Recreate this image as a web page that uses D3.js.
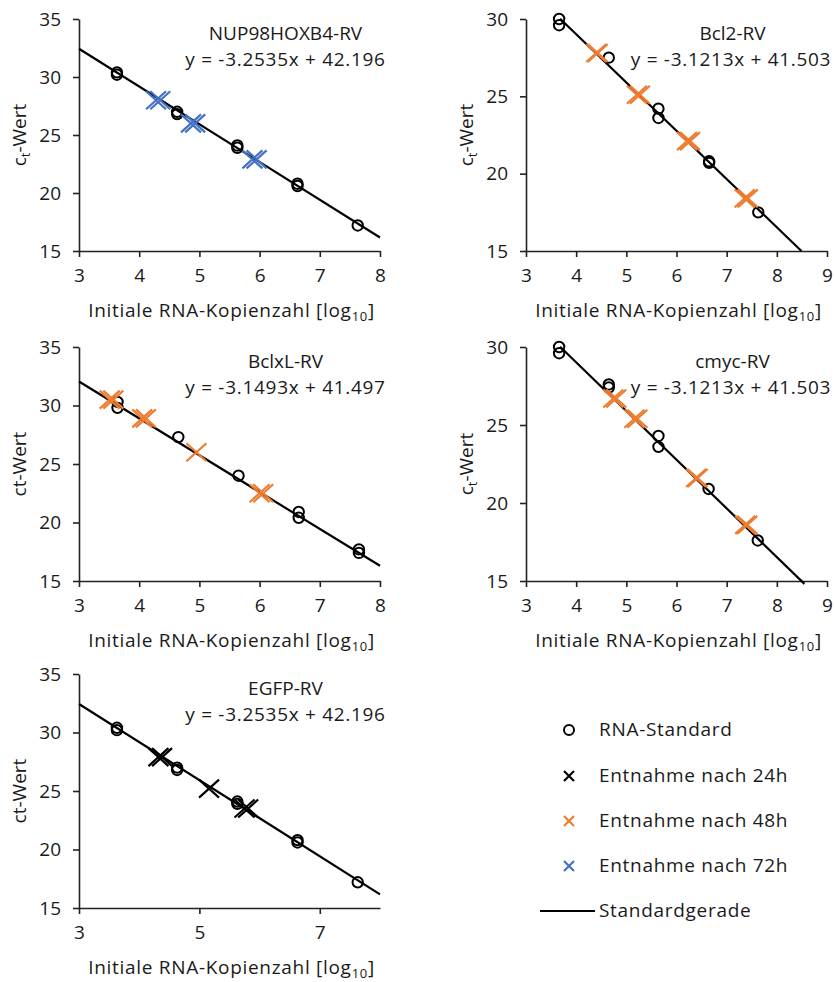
<!DOCTYPE html>
<html>
<head>
<meta charset="utf-8">
<script src="https://cdn.jsdelivr.net/npm/d3@7"></script>
<style>
  body { margin: 0; background: #fff; }
  text { font-family: "Open Sans", sans-serif; fill: #1a1a1a; }
</style>
</head>
<body>
<div id="chart"></div>
<script>
// --- data ---
var orange = "#ED7D31", blue = "#4472C4", black = "#000";

// NUP98HOXB4-RV
var nupStdX = [3.63, 3.63, 4.63, 4.63, 5.63, 5.63, 6.63, 6.63, 7.63];
var nupStdY = [30.4, 30.2, 27.0, 26.8, 24.1, 23.9, 20.8, 20.6, 17.2];
var nupSmpX = [4.28, 4.35, 4.86, 4.93, 5.88, 5.95];
var nupSmpY = [28.0, 28.0, 26.0, 26.0, 22.9, 22.9];

// Bcl2-RV
var bcl2StdX = [3.66, 3.66, 4.65, 5.64, 5.64, 6.65, 6.65, 7.63];
var bcl2StdY = [30.0, 29.6, 27.5, 24.2, 23.6, 20.8, 20.7, 17.5];
var bcl2SmpX = [4.40, 4.43, 5.21, 5.27, 6.21, 6.27, 7.36, 7.42];
var bcl2SmpY = [27.8, 27.8, 25.1, 25.1, 22.1, 22.1, 18.4, 18.4];

// BclxL-RV
var bclxStdX = [3.64, 3.64, 4.65, 5.65, 6.65, 6.65, 7.65, 7.65];
var bclxStdY = [30.3, 29.8, 27.3, 24.0, 20.9, 20.4, 17.7, 17.4];
var bclxSmpX = [3.51, 3.57, 4.05, 4.11, 4.95, 6.00, 6.06];
var bclxSmpY = [30.5, 30.5, 28.9, 28.9, 26.0, 22.5, 22.5];

// cmyc-RV
var cmycStdX = [3.66, 3.66, 4.65, 4.65, 5.64, 5.64, 6.64, 7.62];
var cmycStdY = [30.0, 29.6, 27.6, 27.4, 24.3, 23.6, 20.9, 17.6];
var cmycSmpX = [4.74, 4.80, 5.16, 5.22, 6.39, 6.42, 7.37, 7.41];
var cmycSmpY = [26.7, 26.7, 25.4, 25.4, 21.6, 21.6, 18.6, 18.6];

// EGFP-RV
var egfpStdX = [3.63, 3.63, 4.63, 4.63, 5.63, 5.63, 6.63, 6.63, 7.63];
var egfpStdY = [30.4, 30.2, 27.0, 26.8, 24.1, 23.9, 20.8, 20.6, 17.2];
var egfpSmpX = [4.32, 4.38, 5.16, 5.75, 5.81];
var egfpSmpY = [27.9, 27.9, 25.2, 23.5, 23.5];

var legendLabels = ["RNA-Standard", "Entnahme nach 24h", "Entnahme nach 48h", "Entnahme nach 72h", "Standardgerade"];
var legendColors = [black, black, orange, blue, black];

var panels = [
  { name: "NUP98HOXB4-RV", eq: "y = -3.2535x + 42.196", slope: -3.2535, icpt: 42.196,
    stdX: nupStdX, stdY: nupStdY, smpX: nupSmpX, smpY: nupSmpY, color: blue,
    left: 79, right: 380, top: 19, bottom: 251, xDom: [3, 8], xTicks: [3, 4, 5, 6, 7, 8],
    yDom: [15, 35], yTicks: [15, 20, 25, 30, 35], lineX: [3, 8], sub: true, xTitle: "Initiale RNA-Kopienzahl [log" },
  { name: "Bcl2-RV", eq: "y = -3.1213x + 41.503", slope: -3.1213, icpt: 41.503,
    stdX: bcl2StdX, stdY: bcl2StdY, smpX: bcl2SmpX, smpY: bcl2SmpY, color: orange,
    left: 526, right: 827, top: 19, bottom: 251, xDom: [3, 9], xTicks: [3, 4, 5, 6, 7, 8, 9],
    yDom: [15, 30], yTicks: [15, 20, 25, 30], lineX: [3.68, 8.49], sub: true, xTitle: "Initiale RNA-Kopienzahl  [log" },
  { name: "BclxL-RV", eq: "y = -3.1493x + 41.497", slope: -3.1493, icpt: 41.497,
    stdX: bclxStdX, stdY: bclxStdY, smpX: bclxSmpX, smpY: bclxSmpY, color: orange,
    left: 79, right: 380, top: 347, bottom: 581, xDom: [3, 8], xTicks: [3, 4, 5, 6, 7, 8],
    yDom: [15, 35], yTicks: [15, 20, 25, 30, 35], lineX: [3, 8], sub: false, xTitle: "Initiale RNA-Kopienzahl  [log" },
  { name: "cmyc-RV", eq: "y = -3.1213x + 41.503", slope: -3.1213, icpt: 41.503,
    stdX: cmycStdX, stdY: cmycStdY, smpX: cmycSmpX, smpY: cmycSmpY, color: orange,
    left: 526, right: 827, top: 347, bottom: 581, xDom: [3, 9], xTicks: [3, 4, 5, 6, 7, 8, 9],
    yDom: [15, 30], yTicks: [15, 20, 25, 30], lineX: [3.68, 8.55], sub: true, xTitle: "Initiale RNA-Kopienzahl  [log" },
  { name: "EGFP-RV", eq: "y = -3.2535x + 42.196", slope: -3.2535, icpt: 42.196,
    stdX: egfpStdX, stdY: egfpStdY, smpX: egfpSmpX, smpY: egfpSmpY, color: black,
    left: 79, right: 380, top: 674, bottom: 908, xDom: [3, 8], xTicks: [3, 5, 7],
    yDom: [15, 35], yTicks: [15, 20, 25, 30, 35], lineX: [3, 8], sub: false, xTitle: "Initiale RNA-Kopienzahl  [log" }
];

var svg = d3.select("#chart").append("svg")
  .attr("width", 835).attr("height", 982);

var crossPath = "M-10,-9L10,9M-10,9L10,-9";
var fs = "19px", ls = "0.7px";

panels.forEach(function(p) {
  var x = d3.scaleLinear().domain(p.xDom).range([p.left, p.right]);
  var y = d3.scaleLinear().domain(p.yDom).range([p.bottom, p.top]);
  var g = svg.append("g");

  var xa = g.append("g").attr("transform", "translate(0," + p.bottom + ")")
    .call(d3.axisBottom(x).tickValues(p.xTicks).tickFormat(d3.format("d"))
      .tickSize(6).tickPadding(12).tickSizeOuter(0));
  var ya = g.append("g").attr("transform", "translate(" + p.left + ",0)")
    .call(d3.axisLeft(y).tickValues(p.yTicks).tickFormat(d3.format("d"))
      .tickSize(6).tickPadding(12).tickSizeOuter(0));
  [xa, ya].forEach(function(a) {
    a.select(".domain").attr("stroke", "#222").attr("stroke-width", 1.6);
    a.selectAll(".tick line").attr("stroke", "#222").attr("stroke-width", 1.6);
    a.selectAll(".tick text").style("font-size", fs).style("font-family", "'Open Sans', sans-serif").attr("fill", "#1a1a1a");
  });

  // standard line
  g.append("line")
    .attr("x1", x(p.lineX[0])).attr("y1", y(p.slope * p.lineX[0] + p.icpt))
    .attr("x2", x(p.lineX[1])).attr("y2", y(p.slope * p.lineX[1] + p.icpt))
    .attr("stroke", "#000").attr("stroke-width", 2.2);

  // standards
  g.selectAll(".std").data(d3.zip(p.stdX, p.stdY)).enter().append("circle")
    .attr("cx", function(d) { return x(d[0]); })
    .attr("cy", function(d) { return y(d[1]); })
    .attr("r", 5.2).attr("fill", "none").attr("stroke", "#000").attr("stroke-width", 2);

  // samples
  g.selectAll(".smp").data(d3.zip(p.smpX, p.smpY)).enter().append("path")
    .attr("d", crossPath)
    .attr("transform", function(d) { return "translate(" + x(d[0]) + "," + y(d[1]) + ")"; })
    .attr("fill", "none").attr("stroke", p.color).attr("stroke-width", 2.2);

  var cx = (p.left + p.right) / 2;
  var tx = cx + 56;
  g.append("text").attr("x", tx).attr("y", p.top + 21).attr("text-anchor", "middle")
    .style("font-size", fs).text(p.name);
  g.append("text").attr("x", Math.min(tx, 731)).attr("y", p.top + 47).attr("text-anchor", "middle")
    .style("font-size", fs).style("letter-spacing", ls).text(p.eq);

  var xt = g.append("text").attr("x", cx + 2).attr("y", p.bottom + 66).attr("text-anchor", "middle")
    .style("font-size", fs).style("letter-spacing", ls).text(p.xTitle);
  xt.append("tspan").attr("dy", 4).style("font-size", "13px").text("10");
  xt.append("tspan").attr("dy", -4).text("]");

  var yt = g.append("text")
    .attr("transform", "translate(" + (p.left - 53) + "," + ((p.top + p.bottom) / 2) + ") rotate(-90)")
    .attr("text-anchor", "middle").style("font-size", fs);
  if (p.sub) {
    yt.append("tspan").text("c");
    yt.append("tspan").attr("dy", 4).style("font-size", "13px").text("t");
    yt.append("tspan").attr("dy", -4).text("-Wert");
  } else {
    yt.text("ct-Wert");
  }
});

// legend
var lg = svg.append("g");
var rowY = [730, 776, 821, 866, 911];
lg.selectAll(".lt").data(legendLabels).enter().append("text")
  .attr("x", 599).attr("y", function(d, i) { return rowY[i] + 6; })
  .style("font-size", fs).style("letter-spacing", ls).text(function(d) { return d; });
lg.append("circle").attr("cx", 569).attr("cy", rowY[0]).attr("r", 5)
  .attr("fill", "none").attr("stroke", "#000").attr("stroke-width", 2);
[1, 2, 3].forEach(function(i) {
  lg.append("path").attr("d", "M-5,-5L5,5M-5,5L5,-5")
    .attr("transform", "translate(569," + rowY[i] + ")")
    .attr("fill", "none").attr("stroke", legendColors[i]).attr("stroke-width", 2.2);
});
lg.append("line").attr("x1", 540).attr("x2", 595).attr("y1", rowY[4]).attr("y2", rowY[4])
  .attr("stroke", "#000").attr("stroke-width", 2);
</script>
</body>
</html>
